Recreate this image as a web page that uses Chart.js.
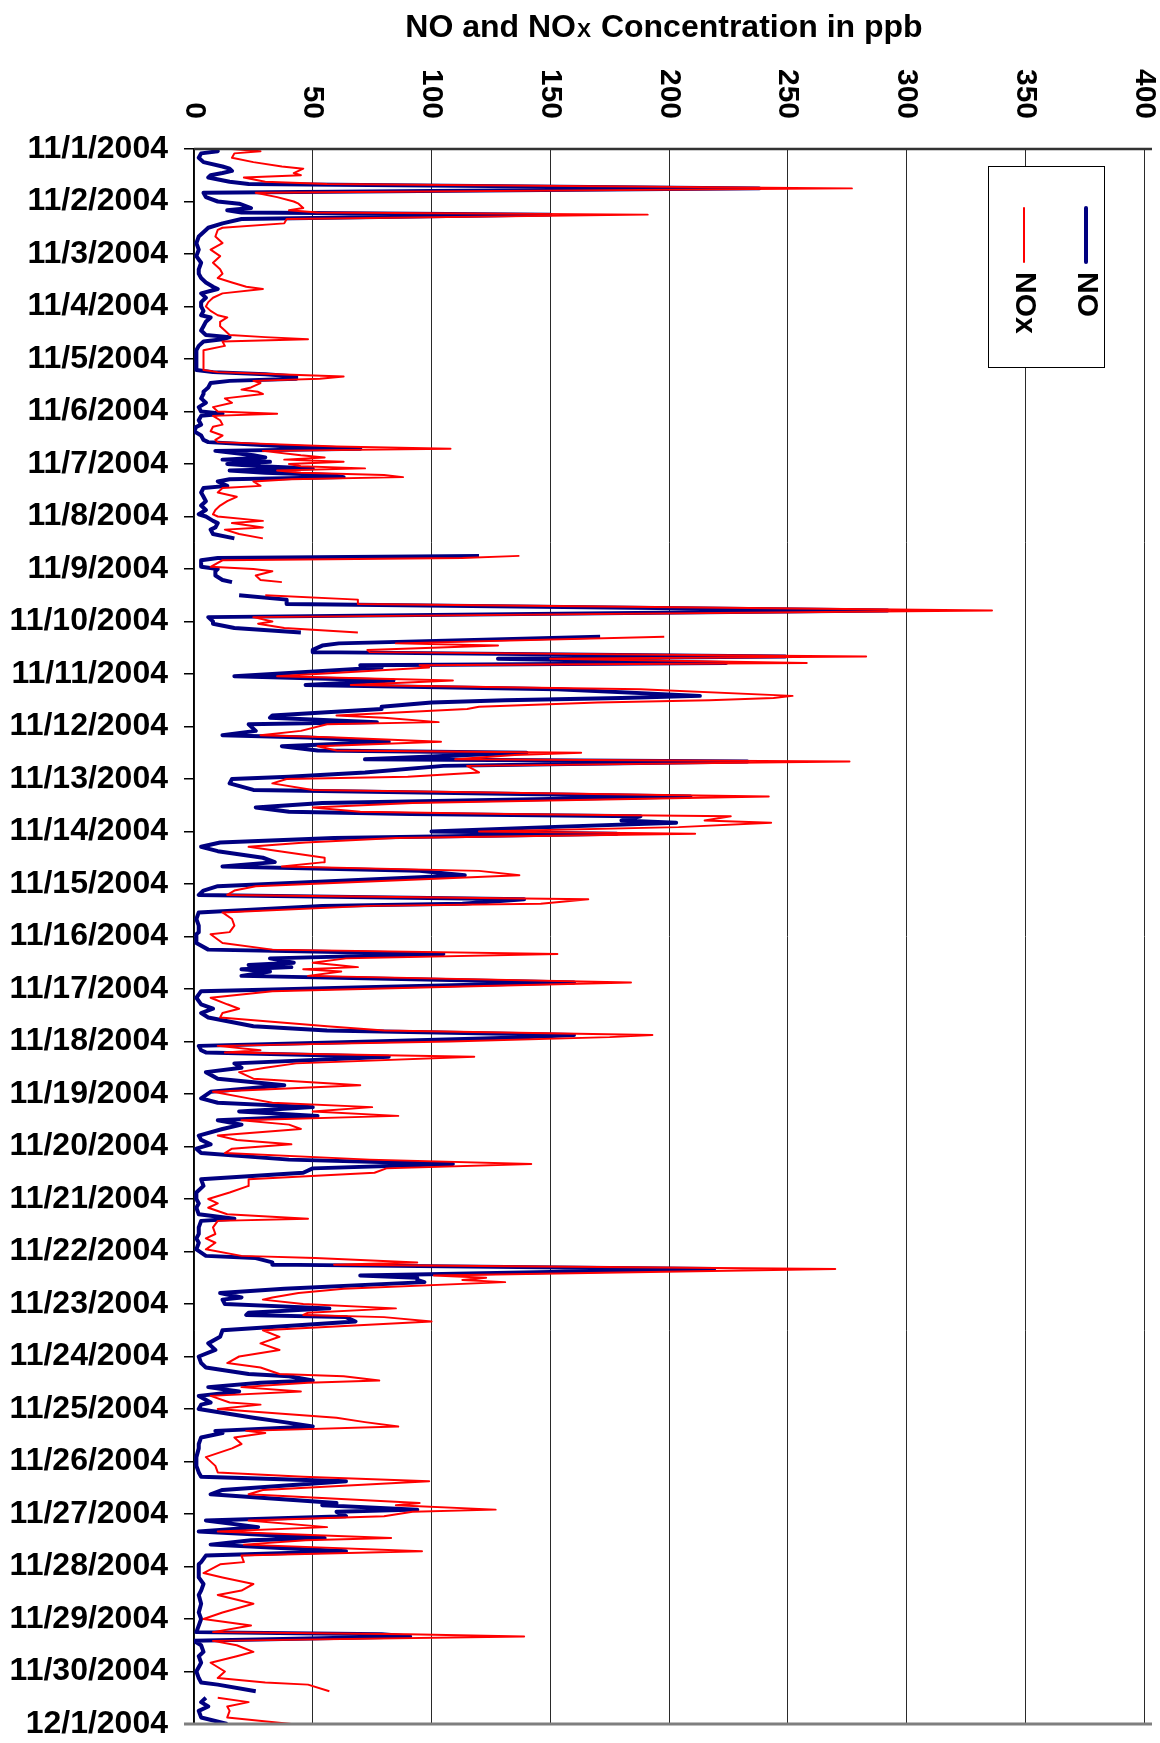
<!DOCTYPE html>
<html>
<head>
<meta charset="utf-8">
<script src="https://cdn.jsdelivr.net/npm/chart.js@4.4.0/dist/chart.umd.min.js"></script>
<style>
  html, body { margin: 0; padding: 0; background: #fff; }
  #wrap { width: 1160px; height: 1743px; }
</style>
</head>
<body>
<div id="wrap"><canvas id="chart" width="1160" height="1743"></canvas></div>
<script>
// ================= DATA =================
// hours since 11/1/2004 00:00 (null values = missing readings)
const hours = [
  0,1,2,4,6,8,9,10,11,12,13,15,16,18,20,22,24,25,27,28,29,30,32,34,36,37,40,43,46,49,52,55,57,
  59,61,63,64,66,68,70,72,74,76,77,79,81,83,85,86,87,88,90,92,95,98,101,102,103,104,105,106,107,109,110,111,112,114,116,
  118,120,121,122,124,126,127,129,131,133,134,136,137,138,140,141,142,143,144,145,146,147,148,149,150,151,152,154,155,157,159,161,163,165,167,168,170,171,173,174,
  176,178,181,186,187,188,191,192,193,195,197,198,201,204,206,208,211,214,216,217,219,221,222,223,226,227,229,230,232,233,235,
  236,237,241,243,245,247,250,251,252,253,255,256,259,260,262,263,266,268,269,271,273,275,276,277,279,280,282,285,287,288,290,293,
  296,299,301,303,304,305,307,308,310,312,313,315,317,319,321,324,326,328,330,332,337,339,341,343,345,346,349,352,
  355,358,359,363,366,368,370,372,373,374,375,376,378,381,383,385,388,391,393,395,397,401,403,405,406,408,410,412,
  413,415,418,420,422,425,428,431,434,436,438,440,442,444,446,448,451,453,455,457,459,462,464,466,468,471,
  474,477,480,482,484,487,489,490,493,496,498,500,503,506,507,509,510,512,515,516,517,518,521,523,525,526,528,530,532,
  533,534,536,540,543,546,549,552,555,557,560,561,563,564,566,568,570,573,574,576,580,582,584,586,587,589,
  592,594,598,602,605,607,609,613,615,619,620,622,623,625,627,630,632,635,636,638,641,643,646,647,651,653,656,
  659,661,665,669,672,675,678,679,680,682,684,687,689,692,696,699,701,702,705,706,708,710,712,714,717,720
];

const noValues = [
  8,10,3,2,4,12,15,16,12,7,6,15,23,238,4,5,10,19,24,14,20,150,20,12,6,5,2,1,2,1,3,2,2,
  3,5,8,10,3,5,3,3,4,3,7,5,4,3,5,15,12,4,2,1,1,1,1,8,30,43,43,15,7,6,5,4,4,3,5,
  2,3,12,3,2,3,1,0,3,4,6,40,70,9,25,30,12,32,14,28,50,15,30,58,63,15,10,14,4,3,4,5,3,5,2,5,8,10,9,7,
  8,17,null,120,10,3,3,10,9,9,12,16,null,19,39,39,292,6,8,8,17,45,null,171,61,54,50,50,249,128,224,
  70,79,17,84,47,153,213,180,131,100,79,79,33,32,77,23,26,12,48,82,37,52,140,115,72,233,105,72,40,16,15,25,
  209,54,26,40,91,188,180,203,149,100,178,59,11,3,10,29,34,12,95,114,10,4,2,139,113,54,2,1,
  2,2,1,1,6,105,32,42,23,41,20,32,20,160,81,3,1,3,8,3,6,25,56,160,141,75,2,3,
  5,82,17,20,5,10,38,7,3,10,50,19,52,10,20,12,2,3,7,1,3,40,109,50,46,3,
  4,1,1,2,1,2,17,3,2,2,1,2,1,5,26,33,33,219,70,94,94,97,38,11,20,12,13,57,23,
  22,64,68,12,11,6,9,2,3,5,23,40,50,28,6,19,2,7,3,2,25,38,50,9,12,3,
  2,2,1,1,2,3,64,12,7,60,54,94,60,64,5,27,2,55,24,7,64,5,3,2,2,2,4,
  3,2,3,2,3,2,1,79,91,0,3,4,2,3,1,2,3,10,26,null,5,3,6,2,3,14
];

const noxValues = [
  16,28,17,16,25,37,46,44,42,45,21,30,56,277,26,35,42,44,46,40,52,191,39,38,12,10,9,12,7,11,8,11,12,
  10,16,22,29,12,8,6,5,7,10,14,11,11,13,15,30,48,12,13,4,4,4,4,10,35,63,53,25,28,24,20,27,29,13,16,
  8,10,35,8,11,12,8,7,12,9,10,60,108,29,45,55,38,63,40,45,72,35,45,80,88,41,25,28,12,10,18,14,11,9,8,10,29,16,29,13,
  19,29,null,137,113,12,7,25,33,26,28,37,null,30,69,69,336,25,33,27,38,69,null,198,85,128,73,74,283,150,258,
  95,99,35,109,66,188,252,244,217,170,120,115,60,80,103,56,45,28,60,104,52,60,163,135,110,276,115,120,90,39,33,50,
  242,92,50,70,131,226,215,243,204,120,211,85,47,23,36,55,55,37,120,137,26,17,14,166,146,74,12,16,
  17,15,7,12,33,153,64,50,60,69,46,62,48,184,109,33,7,14,19,12,11,56,80,193,175,108,10,28,
  13,118,43,30,19,25,70,8,23,33,75,50,86,20,40,45,10,18,41,16,13,74,142,81,76,23,
  23,15,6,10,6,14,48,10,8,9,5,9,5,20,51,94,59,270,101,123,113,131,63,44,33,29,46,85,48,
  46,80,100,29,36,28,36,19,14,28,36,63,78,48,20,45,7,15,28,10,60,72,86,22,30,17,
  20,16,5,9,10,46,99,29,23,95,85,127,92,80,23,56,10,83,47,21,96,20,21,11,4,12,25,
  20,10,25,12,4,24,8,90,139,8,18,25,18,7,13,10,30,48,57,null,10,23,14,15,14,41
];

const dateLabels = [
  "11/1/2004","11/2/2004","11/3/2004","11/4/2004","11/5/2004","11/6/2004","11/7/2004","11/8/2004",
  "11/9/2004","11/10/2004","11/11/2004","11/12/2004","11/13/2004","11/14/2004","11/15/2004","11/16/2004",
  "11/17/2004","11/18/2004","11/19/2004","11/20/2004","11/21/2004","11/22/2004","11/23/2004","11/24/2004",
  "11/25/2004","11/26/2004","11/27/2004","11/28/2004","11/29/2004","11/30/2004","12/1/2004"
];

const valueTicks = [0, 50, 100, 150, 200, 250, 300, 350, 400];

const FONT = "'Liberation Sans', Arial, sans-serif";

// ================= PLUGINS =================
// titulo con la X pequeña
const titlePlugin = {
  id: "titleRot",
  afterDraw(chart) {
    const ctx = chart.ctx;
    const big = "bold 32px " + FONT;
    const small = "bold 21px " + FONT;
    const p1 = "NO and NO", p2 = "X", p3 = " Concentration in ppb";
    ctx.save();
    ctx.fillStyle = "#000";
    ctx.textBaseline = "alphabetic";
    ctx.font = big;
    const w1 = ctx.measureText(p1).width, w3 = ctx.measureText(p3).width;
    ctx.font = small;
    const w2 = ctx.measureText(p2).width;
    let x = 664 - (w1 + w2 + w3 + 2) / 2;
    const y = 37;
    ctx.textAlign = "left";
    ctx.font = big; ctx.fillText(p1, x, y); x += w1;
    ctx.font = small; ctx.fillText(p2, x + 1, y); x += w2 + 2;
    ctx.font = big; ctx.fillText(p3, x, y);
    ctx.restore();
  }
};

// etiquetas del eje de valores, giradas 90° a la derecha
const valueLabelsPlugin = {
  id: "valueLabels",
  afterDraw(chart) {
    const ctx = chart.ctx;
    const sx = chart.scales.x;
    ctx.save();
    ctx.fillStyle = "#000";
    ctx.font = "bold 30px " + FONT;
    ctx.textAlign = "right";
    ctx.textBaseline = "middle";
    valueTicks.forEach(v => {
      ctx.save();
      ctx.translate(sx.getPixelForValue(v), 119);
      ctx.rotate(Math.PI / 2);
      ctx.fillText(String(v), 0, 0);
      ctx.restore();
    });
    ctx.restore();
  }
};

// marco arriba / abajo
const framePlugin = {
  id: "frame",
  afterDatasetsDraw(chart) {
    const { ctx, chartArea: a } = chart;
    ctx.save();
    ctx.strokeStyle = "#7f7f7f";
    ctx.lineWidth = 3;
    ctx.beginPath();
    ctx.moveTo(a.left - 10, a.bottom);
    ctx.lineTo(a.right + 8, a.bottom);
    ctx.stroke();
    ctx.strokeStyle = "#333";
    ctx.lineWidth = 2.5;
    ctx.beginPath();
    ctx.moveTo(a.left, a.top);
    ctx.lineTo(a.right + 8, a.top);
    ctx.stroke();
    ctx.restore();
  }
};

// leyenda girada
const legendPlugin = {
  id: "legendRot",
  afterDraw(chart) {
    const ctx = chart.ctx;
    ctx.save();
    ctx.fillStyle = "#fff";
    ctx.fillRect(988, 166, 117, 202);
    ctx.strokeStyle = "#000";
    ctx.lineWidth = 1;
    ctx.strokeRect(988.5, 166.5, 116, 201);

    const items = [
      { ds: chart.data.datasets[0], x: 1086 },
      { ds: chart.data.datasets[1], x: 1024 }
    ];
    items.forEach(it => {
      ctx.strokeStyle = it.ds.borderColor;
      ctx.lineWidth = it.ds.borderWidth;
      ctx.lineCap = "round";
      ctx.beginPath();
      ctx.moveTo(it.x, 208);
      ctx.lineTo(it.x, 262);
      ctx.stroke();
      ctx.save();
      ctx.translate(it.x, 272);
      ctx.rotate(Math.PI / 2);
      ctx.fillStyle = "#000";
      ctx.font = "bold 30px " + FONT;
      ctx.textAlign = "left";
      ctx.textBaseline = "middle";
      ctx.fillText(it.ds.label, 0, 0);
      ctx.restore();
    });
    ctx.restore();
  }
};

// ================= CHART =================
const toPoints = vals => hours.map((h, i) => ({ x: vals[i], y: h }));

new Chart(document.getElementById("chart").getContext("2d"), {
  type: "line",
  data: {
    datasets: [
      {
        label: "NO",
        data: toPoints(noValues),
        borderColor: "#000080",
        borderWidth: 4,
        borderJoinStyle: "round",
        pointRadius: 0,
        tension: 0,
        spanGaps: false,
        order: 2
      },
      {
        label: "NOx",
        data: toPoints(noxValues),
        borderColor: "#ff0000",
        borderWidth: 2,
        borderJoinStyle: "round",
        pointRadius: 0,
        tension: 0,
        spanGaps: false,
        order: 1
      }
    ]
  },
  plugins: [framePlugin, titlePlugin, valueLabelsPlugin, legendPlugin],
  options: {
    indexAxis: "y",
    responsive: false,
    animation: false,
    devicePixelRatio: 1,
    events: [],
    layout: { padding: { left: 0, top: 0, right: 16, bottom: 19 } },
    scales: {
      x: {
        type: "linear",
        position: "top",
        min: 0,
        max: 400,
        ticks: { display: false, stepSize: 50 },
        grid: { color: "#2a2a2a", lineWidth: 1, drawTicks: false },
        border: { display: false },
        afterFit(scale) { scale.height = 149; }
      },
      y: {
        type: "linear",
        position: "left",
        reverse: true,
        min: 0,
        max: 720,
        afterBuildTicks(scale) {
          scale.ticks = dateLabels.map((_, i) => ({ value: i * 24 }));
        },
        ticks: {
          autoSkip: false,
          padding: 16,
          color: "#000",
          font: { family: FONT, size: 32, weight: "bold" },
          callback: (v) => dateLabels[Math.round(v / 24)]
        },
        grid: { drawOnChartArea: false, drawTicks: true, tickLength: 10, color: "#000", lineWidth: 1.5 },
        border: { display: true, color: "#000", width: 1.5 },
        afterFit(scale) {
          scale.width = 194;
          scale.paddingTop = 0;
          scale.paddingBottom = 0;
        }
      }
    },
    plugins: {
      legend: { display: false },
      title: { display: false },
      tooltip: { enabled: false }
    }
  }
});
</script>
</body>
</html>
